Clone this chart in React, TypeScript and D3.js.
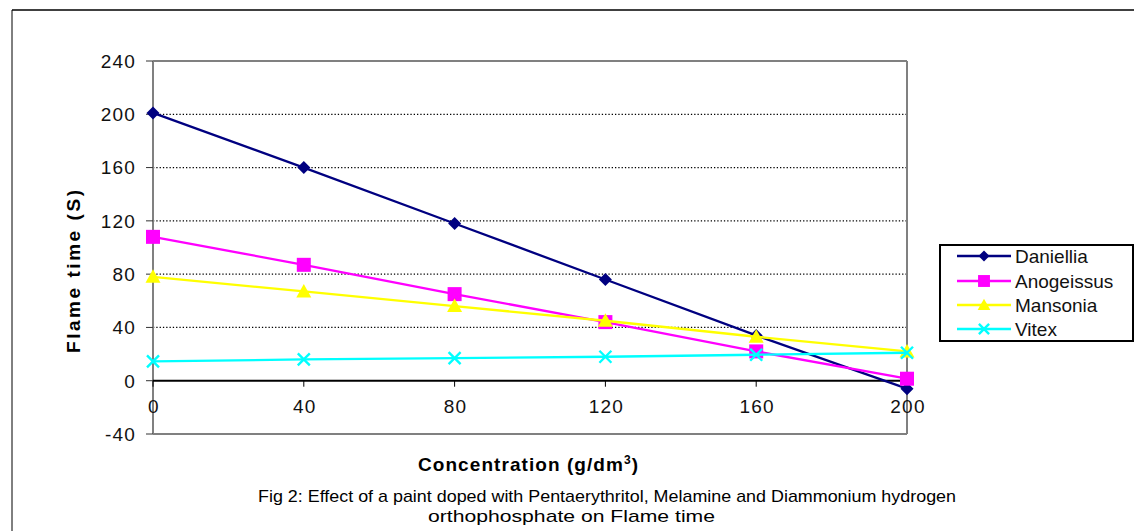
import React from "react";
import * as d3 from "d3";

const concentrations = [0, 40, 80, 120, 160, 200];
const daniellia = [201, 160, 118, 76, 34, -6];
const anogeissus = [108, 87, 65, 44, 22, 1.5];
const mansonia = [78, 67, 56, 45, 33, 22];
const vitex = [14.5, 16, 17, 18, 19.5, 21];
const seriesNames = ["Daniellia", "Anogeissus", "Mansonia", "Vitex"];
const seriesColors = ["#000080", "#FF00FF", "#FFFF00", "#00FFFF"];
const seriesMarkers = ["diamond", "square", "triangle", "cross"];
const yTicks = [-40, 0, 40, 80, 120, 160, 200, 240];
const xTicks = [0, 40, 80, 120, 160, 200];
const gridValues = [40, 80, 120, 160, 200];

const W = 1134;
const H = 531;
const left = 153, right = 907, top = 61, bottom = 434;

const FONT = "Arial, 'Liberation Sans', Helvetica, sans-serif";

function Marker({ type, x, y, color, scale = 1 }: { type: string; x: number; y: number; color: string; scale?: number }) {
  if (type === "diamond") {
    const s = 6.5 * scale;
    return <path d={`M${x},${y - s}L${x + s},${y}L${x},${y + s}L${x - s},${y}Z`} fill={color} />;
  }
  if (type === "square") {
    const s = 7 * scale;
    return <rect x={x - s} y={y - s} width={2 * s} height={2 * s} fill={color} />;
  }
  if (type === "triangle") {
    const s = 7.5 * scale;
    return <path d={`M${x},${y - s}L${x + s},${y + s * 0.8}L${x - s},${y + s * 0.8}Z`} fill={color} />;
  }
  const s = 6 * scale;
  return (
    <path
      d={`M${x - s},${y - s}L${x + s},${y + s}M${x - s},${y + s}L${x + s},${y - s}`}
      stroke={color}
      strokeWidth={2.4}
    />
  );
}

export default function App() {
  const x = d3.scaleLinear().domain([0, 200]).range([left, right]);
  const y = d3.scaleLinear().domain([-40, 240]).range([bottom, top]);
  const allSeries = [daniellia, anogeissus, mansonia, vitex];
  const line = d3
    .line<number>()
    .x((_, i) => x(concentrations[i]))
    .y((d) => y(d));

  const legendX = 940, legendY = 245, legendW = 193, legendH = 96;
  const legendRows = [256, 281, 305, 329];

  return (
    <svg
      width={W}
      height={H}
      style={{ position: "absolute", left: 0, top: 0, background: "#fff" }}
      fontFamily={FONT}
    >
      <rect x={0} y={0} width={W} height={H} fill="#fff" />
      {/* outer frame */}
      <line x1={12} x2={W} y1={10} y2={10} stroke="#000" strokeWidth={1.5} />
      <line x1={12} x2={12} y1={10} y2={H} stroke="#000" strokeWidth={1} />

      {/* gridlines */}
      {gridValues.map((v) => (
        <line
          key={v}
          x1={left}
          x2={right}
          y1={y(v)}
          y2={y(v)}
          stroke="#000"
          strokeWidth={1.3}
          strokeDasharray="1.3 2"
        />
      ))}

      {/* plot border */}
      <line x1={left} x2={right} y1={top} y2={top} stroke="#808080" strokeWidth={2} />
      <line x1={right} x2={right} y1={top} y2={bottom} stroke="#808080" strokeWidth={2} />
      <line x1={left} x2={right} y1={bottom} y2={bottom} stroke="#808080" strokeWidth={2} />
      <line x1={left} x2={left} y1={top} y2={bottom} stroke="#808080" strokeWidth={2} />

      {/* y ticks */}
      {yTicks.map((v) => (
        <g key={v}>
          <line x1={146} x2={left} y1={y(v)} y2={y(v)} stroke="#333" strokeWidth={1} />
          <text x={136} y={y(v)} dy="0.36em" textAnchor="end" fontSize={19} letterSpacing={1.2} fill="#111">
            {v}
          </text>
        </g>
      ))}

      {/* zero line (x axis) */}
      <line x1={left} x2={right} y1={y(0)} y2={y(0)} stroke="#000" strokeWidth={2} />
      {xTicks.map((v) => (
        <g key={v}>
          <line x1={x(v)} x2={x(v)} y1={y(0)} y2={y(0) + 6} stroke="#000" strokeWidth={1} />
          <text x={x(v) + 1} y={406} dy="0.36em" textAnchor="middle" fontSize={19} letterSpacing={1.2} fill="#111">
            {v}
          </text>
        </g>
      ))}

      {/* series */}
      {allSeries.map((s, si) => (
        <g key={si}>
          <path d={line(s) || ""} fill="none" stroke={seriesColors[si]} strokeWidth={2.3} />
          {s.map((v, i) => (
            <Marker key={i} type={seriesMarkers[si]} x={x(concentrations[i])} y={y(v)} color={seriesColors[si]} />
          ))}
        </g>
      ))}

      {/* axis titles */}
      <text x={418} y={471} fontSize={19} fontWeight="bold" fill="#000" textLength={220} lengthAdjust="spacing">
        Concentration (g/dm<tspan fontSize={12} dy={-7}>3</tspan>
        <tspan dy={7}>)</tspan>
      </text>
      <text
        transform={`translate(80,353) rotate(-90)`}
        fontSize={19}
        fontWeight="bold"
        fill="#000"
        textLength={163}
        lengthAdjust="spacing"
      >
        Flame time (S)
      </text>

      {/* legend */}
      <rect x={legendX} y={legendY} width={legendW} height={legendH} fill="#fff" stroke="#000" strokeWidth={2} />
      {seriesNames.map((n, i) => (
        <g key={n}>
          <line x1={957} x2={1011} y1={legendRows[i]} y2={legendRows[i]} stroke={seriesColors[i]} strokeWidth={2.3} />
          <Marker type={seriesMarkers[i]} x={984} y={legendRows[i]} color={seriesColors[i]} scale={0.85} />
          <text x={1015} y={legendRows[i]} dy="0.36em" fontSize={19} fill="#111">
            {n}
          </text>
        </g>
      ))}

      {/* caption */}
      <text
        x={258}
        y={502}
        fontSize={17}
        fill="#000"
        fontFamily="'Liberation Sans Narrow', 'Arial Narrow', Arial, sans-serif"
        textLength={698}
        lengthAdjust="spacingAndGlyphs"
      >
        Fig 2: Effect of a paint doped with Pentaerythritol, Melamine and Diammonium hydrogen
      </text>
      <text
        x={428}
        y={522}
        fontSize={17}
        fill="#000"
        fontFamily="'Liberation Sans Narrow', 'Arial Narrow', Arial, sans-serif"
        textLength={287}
        lengthAdjust="spacingAndGlyphs"
      >
        orthophosphate on Flame time
      </text>
    </svg>
  );
}
